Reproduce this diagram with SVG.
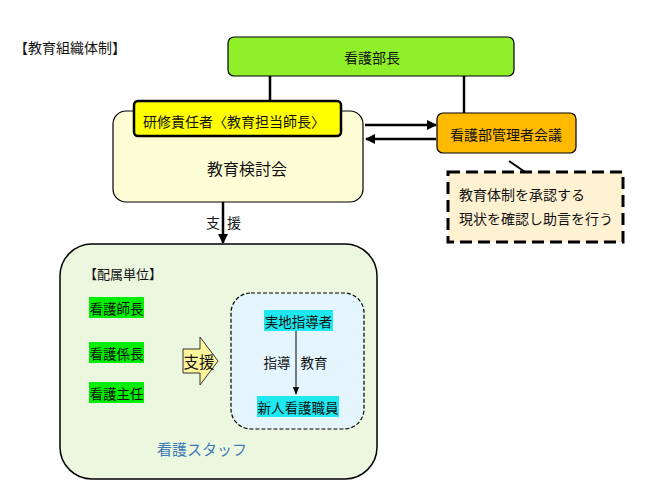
<svg xmlns="http://www.w3.org/2000/svg" width="649" height="497" viewBox="0 0 649 497">
<defs>
<style>
text{font-family:"Noto Sans CJK JP","Noto Sans",sans-serif;fill:#111;dominant-baseline:central}
.c{text-anchor:middle}
.s14{font-size:14px}
</style>
<marker id="ah" viewBox="0 0 10 10" refX="9" refY="5" markerWidth="4" markerHeight="4" orient="auto" markerUnits="strokeWidth"><path d="M0,0L10,5L0,10z" fill="#000"/></marker>
<marker id="ahs" viewBox="0 0 10 10" refX="9" refY="5" markerWidth="8" markerHeight="8" orient="auto" markerUnits="strokeWidth"><path d="M0,1L10,5L0,9z" fill="#000"/></marker>
</defs>
<rect width="649" height="497" fill="#fff"/>
<text x="14" y="47" font-size="14">【教育組織体制】</text>

<g id="connectors" stroke="#000" fill="none">
<line x1="270" y1="76" x2="270" y2="101" stroke-width="2.5"/>
<line x1="464" y1="76" x2="464" y2="113" stroke-width="2.5"/>
<line x1="365" y1="125" x2="436" y2="125" stroke-width="2.5" marker-end="url(#ah)"/>
<line x1="436" y1="139" x2="366" y2="139" stroke-width="2.5" marker-end="url(#ah)"/>
<line x1="509" y1="161" x2="525" y2="172" stroke-width="2"/>
<line x1="223" y1="202" x2="223" y2="243" stroke-width="2.5" marker-end="url(#ah)"/>
</g>

<g id="nurse-director">
<rect x="228" y="37" width="286" height="39" rx="6" fill="#8ff02a" stroke="#000" stroke-width="1.2"/>
<text x="372" y="57" class="c s14">看護部長</text>
</g>

<g id="committee">
<rect x="113" y="111" width="250" height="91" rx="13" fill="#fefed6" stroke="#000" stroke-width="1.2"/>
<text x="247" y="168" class="c" font-size="16">教育検討会</text>
</g>

<g id="trainer">
<rect x="134" y="101" width="207" height="35" rx="4" fill="#ffff00" stroke="#000" stroke-width="2.5"/>
<text x="234" y="121" class="c s14">研修責任者〈教育担当師長〉</text>
</g>

<g id="managers-meeting">
<rect x="437" y="113" width="139" height="40" rx="6" fill="#ffb900" stroke="#000" stroke-width="1.2"/>
<text x="506" y="134" class="c s14">看護部管理者会議</text>
</g>

<g id="note">
<rect x="448" y="172" width="175" height="70" fill="#fff2d2" stroke="#000" stroke-width="3" stroke-dasharray="12 6"/>
<text x="459" y="194" class="s14">教育体制を承認する</text>
<text x="459" y="218" class="s14">現状を確認し助言を行う</text>
</g>

<g id="support-label">
<text x="213" y="222" class="c s14">支</text>
<text x="234" y="222" class="c s14">援</text>
</g>

<g id="unit">
<rect x="60" y="244" width="317" height="235" rx="32" fill="#ecf7df" stroke="#000" stroke-width="1.5"/>
<text x="84" y="273" font-size="13">【配属単位】</text>
<text x="157" y="448" font-size="15" fill="#3d7ab8" style="fill:#3d7ab8">看護スタッフ</text>
</g>

<g id="head-nurse">
<rect x="89" y="297" width="55" height="21" fill="#00ee00"/>
<text x="116.5" y="307.5" class="c" font-size="13.5">看護師長</text>
</g>
<g id="chief-nurse">
<rect x="89" y="342" width="55" height="21" fill="#00ee00"/>
<text x="116.5" y="352.5" class="c" font-size="13.5">看護係長</text>
</g>
<g id="nurse-lead">
<rect x="89" y="382" width="55" height="21" fill="#00ee00"/>
<text x="116.5" y="392.5" class="c" font-size="13.5">看護主任</text>
</g>

<g id="support-arrow">
<path d="M183,349H200V337L218,361L200,385V373H183Z" fill="#fff59a" stroke="#333" stroke-width="1"/>
<text x="199" y="361" class="c" font-size="15.5">支援</text>
</g>

<g id="training-group">
<rect x="231" y="293" width="133" height="136" rx="20" fill="#e4f5fd" stroke="#000" stroke-width="1.2" stroke-dasharray="4 2"/>
<line x1="296" y1="331" x2="296" y2="394" stroke="#000" stroke-width="1" marker-end="url(#ahs)"/>
<text x="277" y="362" class="c" font-size="13.5">指導</text>
<text x="314" y="362" class="c" font-size="13.5">教育</text>
</g>
<g id="preceptor">
<rect x="264" y="310" width="69" height="21" fill="#1ee8f0"/>
<text x="298.5" y="320.5" class="c" font-size="13.5">実地指導者</text>
</g>
<g id="new-nurse">
<rect x="257" y="396" width="82" height="21" fill="#1ee8f0"/>
<text x="298" y="406.5" class="c" font-size="13.5">新人看護職員</text>
</g>
</svg>
